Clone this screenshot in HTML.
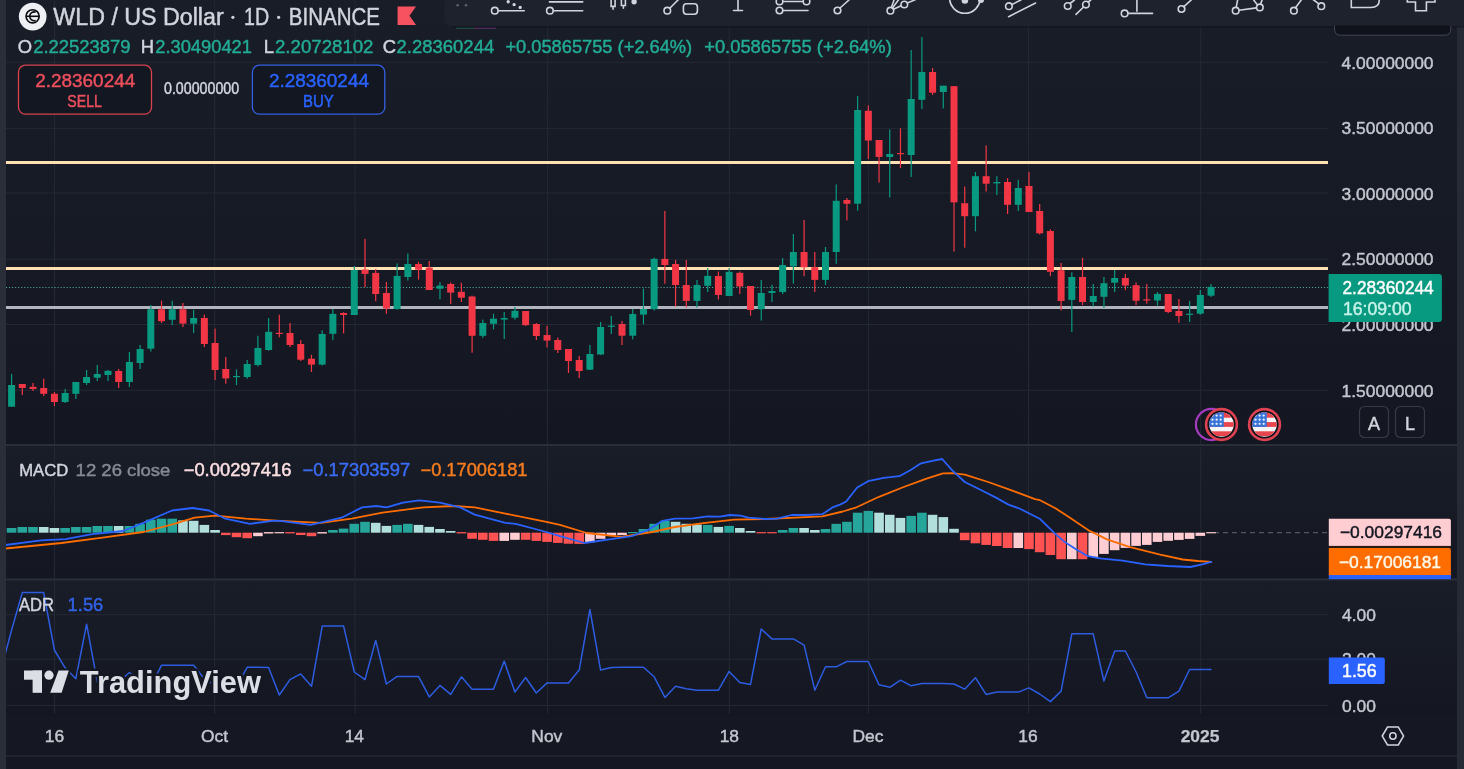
<!DOCTYPE html>
<html><head><meta charset="utf-8"><style>
html,body{margin:0;padding:0;background:#151822;overflow:hidden;}
svg{display:block;will-change:transform;}
text{font-family:"Liberation Sans", sans-serif;}
</style></head><body>
<svg width="1464" height="769" viewBox="0 0 1464 769">
<rect x="0" y="0" width="1464" height="769" fill="#151822"/>
<defs><linearGradient id="pg" x1="0" y1="0" x2="0" y2="1"><stop offset="0" stop-color="#191d28"/><stop offset="1" stop-color="#141721"/></linearGradient></defs>
<rect x="6" y="0" width="1451" height="444" fill="url(#pg)"/>
<rect x="6" y="446" width="1451" height="132.5" fill="url(#pg)"/>
<rect x="6" y="580.5" width="1451" height="135" fill="url(#pg)"/>
<rect x="54.0" y="0" width="1" height="444" fill="#242834"/>
<rect x="54.0" y="447" width="1" height="131" fill="#242834"/>
<rect x="54.0" y="581" width="1" height="133" fill="#242834"/>
<rect x="214.2" y="0" width="1" height="444" fill="#242834"/>
<rect x="214.2" y="447" width="1" height="131" fill="#242834"/>
<rect x="214.2" y="581" width="1" height="133" fill="#242834"/>
<rect x="354.5" y="0" width="1" height="444" fill="#242834"/>
<rect x="354.5" y="447" width="1" height="131" fill="#242834"/>
<rect x="354.5" y="581" width="1" height="133" fill="#242834"/>
<rect x="547.1" y="0" width="1" height="444" fill="#242834"/>
<rect x="547.1" y="447" width="1" height="131" fill="#242834"/>
<rect x="547.1" y="581" width="1" height="133" fill="#242834"/>
<rect x="728.8" y="0" width="1" height="444" fill="#242834"/>
<rect x="728.8" y="447" width="1" height="131" fill="#242834"/>
<rect x="728.8" y="581" width="1" height="133" fill="#242834"/>
<rect x="867.9" y="0" width="1" height="444" fill="#242834"/>
<rect x="867.9" y="447" width="1" height="131" fill="#242834"/>
<rect x="867.9" y="581" width="1" height="133" fill="#242834"/>
<rect x="1028.0" y="0" width="1" height="444" fill="#242834"/>
<rect x="1028.0" y="447" width="1" height="131" fill="#242834"/>
<rect x="1028.0" y="581" width="1" height="133" fill="#242834"/>
<rect x="1200.2" y="0" width="1" height="444" fill="#242834"/>
<rect x="1200.2" y="447" width="1" height="131" fill="#242834"/>
<rect x="1200.2" y="581" width="1" height="133" fill="#242834"/>
<rect x="6" y="61.9" width="1322" height="1" fill="#242834"/>
<rect x="6" y="127.9" width="1322" height="1" fill="#242834"/>
<rect x="6" y="192.4" width="1322" height="1" fill="#242834"/>
<rect x="6" y="258.8" width="1322" height="1" fill="#242834"/>
<rect x="6" y="324.0" width="1322" height="1" fill="#242834"/>
<rect x="6" y="389.8" width="1322" height="1" fill="#242834"/>
<rect x="6" y="614.1" width="1322" height="1" fill="#242834"/>
<rect x="6" y="658.7" width="1322" height="1" fill="#242834"/>
<rect x="6" y="704.9" width="1322" height="1" fill="#242834"/>
<rect x="6" y="161" width="1322" height="3" fill="#ffe0b2"/>
<rect x="6" y="267" width="1322" height="3" fill="#ffe0b2"/>
<rect x="6" y="306" width="1322" height="3" fill="#b2b5be"/>
<line x1="6" y1="287.5" x2="1328" y2="287.5" stroke="#4fa898" stroke-width="1.2" stroke-dasharray="1.1 1.93"/>
<rect x="10.99" y="374.0" width="1.2" height="32.7" fill="#089981"/>
<rect x="8.09" y="385.0" width="7.0" height="21.7" fill="#089981"/>
<rect x="21.70" y="384.0" width="1.2" height="11.0" fill="#f23645"/>
<rect x="18.80" y="384.0" width="7.0" height="4.0" fill="#f23645"/>
<rect x="32.41" y="383.0" width="1.2" height="8.0" fill="#f23645"/>
<rect x="29.51" y="386.8" width="7.0" height="2.2" fill="#f23645"/>
<rect x="43.12" y="378.6" width="1.2" height="17.4" fill="#f23645"/>
<rect x="40.22" y="388.0" width="7.0" height="5.8" fill="#f23645"/>
<rect x="53.83" y="392.0" width="1.2" height="14.0" fill="#f23645"/>
<rect x="50.93" y="393.8" width="7.0" height="8.2" fill="#f23645"/>
<rect x="64.54" y="389.0" width="1.2" height="14.0" fill="#089981"/>
<rect x="61.64" y="393.0" width="7.0" height="9.0" fill="#089981"/>
<rect x="75.25" y="382.0" width="1.2" height="17.0" fill="#089981"/>
<rect x="72.35" y="382.0" width="7.0" height="11.8" fill="#089981"/>
<rect x="85.96" y="370.0" width="1.2" height="15.0" fill="#089981"/>
<rect x="83.06" y="377.0" width="7.0" height="6.0" fill="#089981"/>
<rect x="96.67" y="365.0" width="1.2" height="16.0" fill="#089981"/>
<rect x="93.77" y="374.0" width="7.0" height="3.7" fill="#089981"/>
<rect x="107.38" y="370.0" width="1.2" height="11.0" fill="#089981"/>
<rect x="104.48" y="370.8" width="7.0" height="4.2" fill="#089981"/>
<rect x="118.09" y="369.0" width="1.2" height="19.0" fill="#f23645"/>
<rect x="115.19" y="371.0" width="7.0" height="11.0" fill="#f23645"/>
<rect x="128.79" y="352.0" width="1.2" height="35.0" fill="#089981"/>
<rect x="125.89" y="362.0" width="7.0" height="20.0" fill="#089981"/>
<rect x="139.50" y="345.0" width="1.2" height="24.0" fill="#089981"/>
<rect x="136.60" y="349.0" width="7.0" height="14.0" fill="#089981"/>
<rect x="150.21" y="305.0" width="1.2" height="46.5" fill="#089981"/>
<rect x="147.31" y="309.3" width="7.0" height="39.4" fill="#089981"/>
<rect x="160.92" y="300.7" width="1.2" height="22.3" fill="#f23645"/>
<rect x="158.02" y="309.3" width="7.0" height="11.9" fill="#f23645"/>
<rect x="171.63" y="300.7" width="1.2" height="24.3" fill="#089981"/>
<rect x="168.73" y="309.3" width="7.0" height="10.5" fill="#089981"/>
<rect x="182.34" y="303.0" width="1.2" height="24.0" fill="#f23645"/>
<rect x="179.44" y="309.3" width="7.0" height="14.3" fill="#f23645"/>
<rect x="193.05" y="309.8" width="1.2" height="23.2" fill="#089981"/>
<rect x="190.15" y="318.0" width="7.0" height="5.6" fill="#089981"/>
<rect x="203.76" y="314.6" width="1.2" height="32.4" fill="#f23645"/>
<rect x="200.86" y="318.0" width="7.0" height="26.0" fill="#f23645"/>
<rect x="214.47" y="328.6" width="1.2" height="51.4" fill="#f23645"/>
<rect x="211.57" y="343.0" width="7.0" height="27.0" fill="#f23645"/>
<rect x="225.18" y="357.0" width="1.2" height="26.7" fill="#f23645"/>
<rect x="222.28" y="369.0" width="7.0" height="9.4" fill="#f23645"/>
<rect x="235.89" y="369.4" width="1.2" height="15.6" fill="#089981"/>
<rect x="232.99" y="376.0" width="7.0" height="1.2" fill="#089981"/>
<rect x="246.60" y="360.0" width="1.2" height="18.7" fill="#089981"/>
<rect x="243.70" y="364.0" width="7.0" height="13.0" fill="#089981"/>
<rect x="257.31" y="335.8" width="1.2" height="30.7" fill="#089981"/>
<rect x="254.41" y="348.0" width="7.0" height="17.0" fill="#089981"/>
<rect x="268.02" y="318.0" width="1.2" height="32.8" fill="#089981"/>
<rect x="265.12" y="331.8" width="7.0" height="18.2" fill="#089981"/>
<rect x="278.72" y="314.8" width="1.2" height="22.5" fill="#f23645"/>
<rect x="275.82" y="332.8" width="7.0" height="1.2" fill="#f23645"/>
<rect x="289.43" y="323.0" width="1.2" height="24.0" fill="#f23645"/>
<rect x="286.53" y="333.0" width="7.0" height="12.0" fill="#f23645"/>
<rect x="300.14" y="340.0" width="1.2" height="21.0" fill="#f23645"/>
<rect x="297.24" y="344.0" width="7.0" height="15.7" fill="#f23645"/>
<rect x="310.85" y="354.8" width="1.2" height="17.2" fill="#f23645"/>
<rect x="307.95" y="358.7" width="7.0" height="5.9" fill="#f23645"/>
<rect x="321.56" y="330.4" width="1.2" height="35.1" fill="#089981"/>
<rect x="318.66" y="334.0" width="7.0" height="30.6" fill="#089981"/>
<rect x="332.27" y="309.0" width="1.2" height="31.2" fill="#089981"/>
<rect x="329.37" y="313.9" width="7.0" height="19.9" fill="#089981"/>
<rect x="342.98" y="312.3" width="1.2" height="21.1" fill="#f23645"/>
<rect x="340.08" y="313.0" width="7.0" height="2.0" fill="#f23645"/>
<rect x="353.69" y="266.0" width="1.2" height="49.0" fill="#089981"/>
<rect x="350.79" y="270.0" width="7.0" height="45.0" fill="#089981"/>
<rect x="364.40" y="238.8" width="1.2" height="48.2" fill="#f23645"/>
<rect x="361.50" y="269.6" width="7.0" height="4.3" fill="#f23645"/>
<rect x="375.11" y="269.0" width="1.2" height="32.2" fill="#f23645"/>
<rect x="372.21" y="272.9" width="7.0" height="21.1" fill="#f23645"/>
<rect x="385.82" y="282.0" width="1.2" height="31.8" fill="#f23645"/>
<rect x="382.92" y="293.0" width="7.0" height="15.6" fill="#f23645"/>
<rect x="396.53" y="263.4" width="1.2" height="46.4" fill="#089981"/>
<rect x="393.63" y="275.9" width="7.0" height="33.1" fill="#089981"/>
<rect x="407.24" y="253.6" width="1.2" height="27.0" fill="#089981"/>
<rect x="404.34" y="264.0" width="7.0" height="13.0" fill="#089981"/>
<rect x="417.95" y="261.9" width="1.2" height="17.7" fill="#f23645"/>
<rect x="415.05" y="264.0" width="7.0" height="5.7" fill="#f23645"/>
<rect x="428.65" y="261.0" width="1.2" height="29.0" fill="#f23645"/>
<rect x="425.75" y="267.6" width="7.0" height="22.4" fill="#f23645"/>
<rect x="439.36" y="282.0" width="1.2" height="17.3" fill="#089981"/>
<rect x="436.46" y="285.6" width="7.0" height="3.1" fill="#089981"/>
<rect x="450.07" y="282.5" width="1.2" height="21.5" fill="#f23645"/>
<rect x="447.17" y="284.0" width="7.0" height="8.6" fill="#f23645"/>
<rect x="460.78" y="282.8" width="1.2" height="19.2" fill="#f23645"/>
<rect x="457.88" y="291.8" width="7.0" height="5.9" fill="#f23645"/>
<rect x="471.49" y="295.7" width="1.2" height="57.0" fill="#f23645"/>
<rect x="468.59" y="296.5" width="7.0" height="39.3" fill="#f23645"/>
<rect x="482.20" y="319.6" width="1.2" height="18.3" fill="#089981"/>
<rect x="479.30" y="323.0" width="7.0" height="12.8" fill="#089981"/>
<rect x="492.91" y="313.7" width="1.2" height="15.6" fill="#089981"/>
<rect x="490.01" y="318.7" width="7.0" height="5.1" fill="#089981"/>
<rect x="503.62" y="312.0" width="1.2" height="27.0" fill="#089981"/>
<rect x="500.72" y="318.0" width="7.0" height="1.6" fill="#089981"/>
<rect x="514.33" y="307.0" width="1.2" height="12.6" fill="#089981"/>
<rect x="511.43" y="310.8" width="7.0" height="6.9" fill="#089981"/>
<rect x="525.04" y="311.0" width="1.2" height="14.8" fill="#f23645"/>
<rect x="522.14" y="311.0" width="7.0" height="14.2" fill="#f23645"/>
<rect x="535.75" y="323.0" width="1.2" height="17.0" fill="#f23645"/>
<rect x="532.85" y="324.0" width="7.0" height="12.0" fill="#f23645"/>
<rect x="546.46" y="325.8" width="1.2" height="21.6" fill="#f23645"/>
<rect x="543.56" y="335.0" width="7.0" height="5.6" fill="#f23645"/>
<rect x="557.17" y="337.6" width="1.2" height="15.4" fill="#f23645"/>
<rect x="554.27" y="340.0" width="7.0" height="10.0" fill="#f23645"/>
<rect x="567.88" y="349.0" width="1.2" height="24.0" fill="#f23645"/>
<rect x="564.98" y="349.0" width="7.0" height="12.0" fill="#f23645"/>
<rect x="578.59" y="356.0" width="1.2" height="22.0" fill="#f23645"/>
<rect x="575.69" y="360.0" width="7.0" height="11.0" fill="#f23645"/>
<rect x="589.29" y="345.0" width="1.2" height="25.0" fill="#089981"/>
<rect x="586.39" y="354.0" width="7.0" height="15.7" fill="#089981"/>
<rect x="600.00" y="322.0" width="1.2" height="33.0" fill="#089981"/>
<rect x="597.10" y="327.0" width="7.0" height="27.5" fill="#089981"/>
<rect x="610.71" y="316.0" width="1.2" height="17.9" fill="#089981"/>
<rect x="607.81" y="325.6" width="7.0" height="1.2" fill="#089981"/>
<rect x="621.42" y="320.9" width="1.2" height="24.1" fill="#f23645"/>
<rect x="618.52" y="324.0" width="7.0" height="11.7" fill="#f23645"/>
<rect x="632.13" y="309.0" width="1.2" height="30.4" fill="#089981"/>
<rect x="629.23" y="314.0" width="7.0" height="21.7" fill="#089981"/>
<rect x="642.84" y="288.6" width="1.2" height="35.7" fill="#089981"/>
<rect x="639.94" y="309.0" width="7.0" height="5.6" fill="#089981"/>
<rect x="653.55" y="257.7" width="1.2" height="52.8" fill="#089981"/>
<rect x="650.65" y="258.8" width="7.0" height="50.4" fill="#089981"/>
<rect x="664.26" y="211.0" width="1.2" height="72.7" fill="#f23645"/>
<rect x="661.36" y="258.9" width="7.0" height="6.1" fill="#f23645"/>
<rect x="674.97" y="259.8" width="1.2" height="46.8" fill="#f23645"/>
<rect x="672.07" y="264.0" width="7.0" height="21.0" fill="#f23645"/>
<rect x="685.68" y="259.8" width="1.2" height="47.8" fill="#f23645"/>
<rect x="682.78" y="285.0" width="7.0" height="15.9" fill="#f23645"/>
<rect x="696.39" y="280.0" width="1.2" height="27.6" fill="#089981"/>
<rect x="693.49" y="285.0" width="7.0" height="15.9" fill="#089981"/>
<rect x="707.10" y="268.0" width="1.2" height="24.0" fill="#089981"/>
<rect x="704.20" y="275.9" width="7.0" height="9.9" fill="#089981"/>
<rect x="717.81" y="271.5" width="1.2" height="28.0" fill="#f23645"/>
<rect x="714.91" y="276.0" width="7.0" height="19.0" fill="#f23645"/>
<rect x="728.52" y="268.0" width="1.2" height="28.0" fill="#089981"/>
<rect x="725.62" y="271.8" width="7.0" height="24.2" fill="#089981"/>
<rect x="739.22" y="271.5" width="1.2" height="22.5" fill="#f23645"/>
<rect x="736.32" y="272.8" width="7.0" height="13.7" fill="#f23645"/>
<rect x="749.93" y="286.0" width="1.2" height="29.7" fill="#f23645"/>
<rect x="747.03" y="286.0" width="7.0" height="24.0" fill="#f23645"/>
<rect x="760.64" y="280.0" width="1.2" height="40.6" fill="#089981"/>
<rect x="757.74" y="293.0" width="7.0" height="16.2" fill="#089981"/>
<rect x="771.35" y="284.8" width="1.2" height="17.2" fill="#089981"/>
<rect x="768.45" y="291.0" width="7.0" height="2.0" fill="#089981"/>
<rect x="782.06" y="258.0" width="1.2" height="36.0" fill="#089981"/>
<rect x="779.16" y="265.0" width="7.0" height="27.0" fill="#089981"/>
<rect x="792.77" y="234.0" width="1.2" height="49.6" fill="#089981"/>
<rect x="789.87" y="252.0" width="7.0" height="14.4" fill="#089981"/>
<rect x="803.48" y="219.9" width="1.2" height="56.3" fill="#f23645"/>
<rect x="800.58" y="252.0" width="7.0" height="15.2" fill="#f23645"/>
<rect x="814.19" y="252.0" width="1.2" height="40.0" fill="#f23645"/>
<rect x="811.29" y="267.2" width="7.0" height="12.7" fill="#f23645"/>
<rect x="824.90" y="247.0" width="1.2" height="38.0" fill="#089981"/>
<rect x="822.00" y="252.0" width="7.0" height="27.9" fill="#089981"/>
<rect x="835.61" y="184.4" width="1.2" height="79.4" fill="#089981"/>
<rect x="832.71" y="200.8" width="7.0" height="51.2" fill="#089981"/>
<rect x="846.32" y="198.0" width="1.2" height="22.4" fill="#f23645"/>
<rect x="843.42" y="200.0" width="7.0" height="3.8" fill="#f23645"/>
<rect x="857.03" y="96.0" width="1.2" height="114.6" fill="#089981"/>
<rect x="854.13" y="110.0" width="7.0" height="93.7" fill="#089981"/>
<rect x="867.74" y="105.4" width="1.2" height="53.6" fill="#f23645"/>
<rect x="864.84" y="110.8" width="7.0" height="29.7" fill="#f23645"/>
<rect x="878.45" y="140.0" width="1.2" height="42.6" fill="#f23645"/>
<rect x="875.55" y="140.0" width="7.0" height="16.9" fill="#f23645"/>
<rect x="889.15" y="129.5" width="1.2" height="67.9" fill="#089981"/>
<rect x="886.25" y="154.0" width="7.0" height="3.0" fill="#089981"/>
<rect x="899.86" y="128.3" width="1.2" height="39.7" fill="#f23645"/>
<rect x="896.96" y="153.0" width="7.0" height="1.2" fill="#f23645"/>
<rect x="910.57" y="50.0" width="1.2" height="127.0" fill="#089981"/>
<rect x="907.67" y="99.0" width="7.0" height="56.0" fill="#089981"/>
<rect x="921.28" y="37.0" width="1.2" height="72.0" fill="#089981"/>
<rect x="918.38" y="72.0" width="7.0" height="27.8" fill="#089981"/>
<rect x="931.99" y="68.0" width="1.2" height="27.0" fill="#f23645"/>
<rect x="929.09" y="72.0" width="7.0" height="20.7" fill="#f23645"/>
<rect x="942.70" y="85.7" width="1.2" height="22.7" fill="#089981"/>
<rect x="939.80" y="85.7" width="7.0" height="6.3" fill="#089981"/>
<rect x="953.41" y="86.2" width="1.2" height="165.4" fill="#f23645"/>
<rect x="950.51" y="86.2" width="7.0" height="116.2" fill="#f23645"/>
<rect x="964.12" y="186.5" width="1.2" height="61.2" fill="#f23645"/>
<rect x="961.22" y="203.2" width="7.0" height="13.0" fill="#f23645"/>
<rect x="974.83" y="172.0" width="1.2" height="59.3" fill="#089981"/>
<rect x="971.93" y="176.2" width="7.0" height="40.0" fill="#089981"/>
<rect x="985.54" y="145.5" width="1.2" height="46.0" fill="#f23645"/>
<rect x="982.64" y="176.2" width="7.0" height="7.5" fill="#f23645"/>
<rect x="996.25" y="176.2" width="1.2" height="18.8" fill="#089981"/>
<rect x="993.35" y="182.0" width="7.0" height="1.4" fill="#089981"/>
<rect x="1006.96" y="178.2" width="1.2" height="35.8" fill="#f23645"/>
<rect x="1004.06" y="182.0" width="7.0" height="22.8" fill="#f23645"/>
<rect x="1017.67" y="179.8" width="1.2" height="31.2" fill="#089981"/>
<rect x="1014.77" y="188.0" width="7.0" height="16.8" fill="#089981"/>
<rect x="1028.38" y="172.0" width="1.2" height="40.0" fill="#f23645"/>
<rect x="1025.48" y="186.0" width="7.0" height="26.0" fill="#f23645"/>
<rect x="1039.09" y="204.0" width="1.2" height="30.4" fill="#f23645"/>
<rect x="1036.19" y="211.0" width="7.0" height="22.3" fill="#f23645"/>
<rect x="1049.79" y="229.4" width="1.2" height="46.8" fill="#f23645"/>
<rect x="1046.89" y="231.0" width="7.0" height="40.8" fill="#f23645"/>
<rect x="1060.50" y="263.0" width="1.2" height="47.5" fill="#f23645"/>
<rect x="1057.60" y="270.2" width="7.0" height="30.8" fill="#f23645"/>
<rect x="1071.21" y="272.3" width="1.2" height="59.7" fill="#089981"/>
<rect x="1068.31" y="277.0" width="7.0" height="22.9" fill="#089981"/>
<rect x="1081.92" y="257.8" width="1.2" height="47.2" fill="#f23645"/>
<rect x="1079.02" y="277.0" width="7.0" height="25.0" fill="#f23645"/>
<rect x="1092.63" y="284.0" width="1.2" height="22.6" fill="#089981"/>
<rect x="1089.73" y="296.0" width="7.0" height="6.0" fill="#089981"/>
<rect x="1103.34" y="277.0" width="1.2" height="31.0" fill="#089981"/>
<rect x="1100.44" y="283.2" width="7.0" height="13.6" fill="#089981"/>
<rect x="1114.05" y="270.0" width="1.2" height="22.0" fill="#089981"/>
<rect x="1111.15" y="278.0" width="7.0" height="4.7" fill="#089981"/>
<rect x="1124.76" y="273.8" width="1.2" height="16.4" fill="#f23645"/>
<rect x="1121.86" y="278.0" width="7.0" height="7.5" fill="#f23645"/>
<rect x="1135.47" y="282.4" width="1.2" height="22.6" fill="#f23645"/>
<rect x="1132.57" y="285.2" width="7.0" height="15.6" fill="#f23645"/>
<rect x="1146.18" y="284.0" width="1.2" height="19.7" fill="#f23645"/>
<rect x="1143.28" y="299.3" width="7.0" height="1.2" fill="#f23645"/>
<rect x="1156.89" y="292.0" width="1.2" height="13.5" fill="#089981"/>
<rect x="1153.99" y="293.9" width="7.0" height="6.6" fill="#089981"/>
<rect x="1167.60" y="294.0" width="1.2" height="19.2" fill="#f23645"/>
<rect x="1164.70" y="294.0" width="7.0" height="18.0" fill="#f23645"/>
<rect x="1178.31" y="299.0" width="1.2" height="23.8" fill="#f23645"/>
<rect x="1175.41" y="311.0" width="7.0" height="5.0" fill="#f23645"/>
<rect x="1189.02" y="301.0" width="1.2" height="21.0" fill="#089981"/>
<rect x="1186.12" y="313.7" width="7.0" height="1.2" fill="#089981"/>
<rect x="1199.72" y="290.0" width="1.2" height="24.6" fill="#089981"/>
<rect x="1196.82" y="295.0" width="7.0" height="18.7" fill="#089981"/>
<rect x="1210.43" y="284.0" width="1.2" height="13.0" fill="#089981"/>
<rect x="1207.53" y="286.9" width="7.0" height="8.8" fill="#089981"/>
<rect x="6" y="444" width="1451" height="2" fill="#2a2e39"/>
<rect x="6" y="578.5" width="1451" height="2" fill="#2a2e39"/>
<line x1="1214" y1="532.7" x2="1328" y2="532.7" stroke="#787b86" stroke-width="1" stroke-dasharray="5 4" opacity="0.8"/>
<rect x="6.79" y="528.0" width="9.6" height="4.7" fill="#26a69a"/>
<rect x="17.50" y="527.0" width="9.6" height="5.7" fill="#26a69a"/>
<rect x="28.21" y="527.0" width="9.6" height="5.7" fill="#26a69a"/>
<rect x="38.92" y="527.0" width="9.6" height="5.7" fill="#b2dfdb"/>
<rect x="49.63" y="528.0" width="9.6" height="4.7" fill="#b2dfdb"/>
<rect x="60.34" y="528.0" width="9.6" height="4.7" fill="#26a69a"/>
<rect x="71.05" y="527.0" width="9.6" height="5.7" fill="#26a69a"/>
<rect x="81.76" y="527.0" width="9.6" height="5.7" fill="#26a69a"/>
<rect x="92.47" y="526.0" width="9.6" height="6.7" fill="#26a69a"/>
<rect x="103.18" y="526.0" width="9.6" height="6.7" fill="#26a69a"/>
<rect x="113.89" y="526.0" width="9.6" height="6.7" fill="#b2dfdb"/>
<rect x="124.59" y="526.0" width="9.6" height="6.7" fill="#26a69a"/>
<rect x="135.30" y="523.8" width="9.6" height="8.9" fill="#26a69a"/>
<rect x="146.01" y="519.7" width="9.6" height="13.0" fill="#26a69a"/>
<rect x="156.72" y="518.7" width="9.6" height="14.0" fill="#26a69a"/>
<rect x="167.43" y="518.7" width="9.6" height="14.0" fill="#26a69a"/>
<rect x="178.14" y="520.4" width="9.6" height="12.3" fill="#b2dfdb"/>
<rect x="188.85" y="520.8" width="9.6" height="11.9" fill="#b2dfdb"/>
<rect x="199.56" y="524.9" width="9.6" height="7.8" fill="#b2dfdb"/>
<rect x="210.27" y="530.0" width="9.6" height="2.7" fill="#b2dfdb"/>
<rect x="220.98" y="532.7" width="9.6" height="2.4" fill="#ff5252"/>
<rect x="231.69" y="532.7" width="9.6" height="4.5" fill="#ff5252"/>
<rect x="242.40" y="532.7" width="9.6" height="5.5" fill="#ff5252"/>
<rect x="253.11" y="532.7" width="9.6" height="3.5" fill="#ffcdd2"/>
<rect x="263.82" y="532.1" width="9.6" height="1.4" fill="#ffcdd2"/>
<rect x="274.52" y="532.1" width="9.6" height="1.2" fill="#ffcdd2"/>
<rect x="285.23" y="532.1" width="9.6" height="1.3" fill="#ff5252"/>
<rect x="295.94" y="532.7" width="9.6" height="2.3" fill="#ff5252"/>
<rect x="306.65" y="532.7" width="9.6" height="3.5" fill="#ff5252"/>
<rect x="317.36" y="532.1" width="9.6" height="1.4" fill="#ffcdd2"/>
<rect x="328.07" y="530.0" width="9.6" height="2.7" fill="#26a69a"/>
<rect x="338.78" y="528.6" width="9.6" height="4.1" fill="#26a69a"/>
<rect x="349.49" y="523.8" width="9.6" height="8.9" fill="#26a69a"/>
<rect x="360.20" y="521.8" width="9.6" height="10.9" fill="#26a69a"/>
<rect x="370.91" y="522.8" width="9.6" height="9.9" fill="#b2dfdb"/>
<rect x="381.62" y="525.9" width="9.6" height="6.8" fill="#b2dfdb"/>
<rect x="392.33" y="524.9" width="9.6" height="7.8" fill="#26a69a"/>
<rect x="403.04" y="523.8" width="9.6" height="8.9" fill="#26a69a"/>
<rect x="413.75" y="524.9" width="9.6" height="7.8" fill="#b2dfdb"/>
<rect x="424.45" y="526.9" width="9.6" height="5.8" fill="#b2dfdb"/>
<rect x="435.16" y="529.0" width="9.6" height="3.7" fill="#b2dfdb"/>
<rect x="445.87" y="531.0" width="9.6" height="1.7" fill="#b2dfdb"/>
<rect x="456.58" y="532.1" width="9.6" height="1.3" fill="#ff5252"/>
<rect x="467.29" y="532.7" width="9.6" height="6.1" fill="#ff5252"/>
<rect x="478.00" y="532.7" width="9.6" height="7.1" fill="#ff5252"/>
<rect x="488.71" y="532.7" width="9.6" height="8.2" fill="#ff5252"/>
<rect x="499.42" y="532.7" width="9.6" height="8.2" fill="#ffcdd2"/>
<rect x="510.13" y="532.7" width="9.6" height="7.1" fill="#ffcdd2"/>
<rect x="520.84" y="532.7" width="9.6" height="7.1" fill="#ff5252"/>
<rect x="531.55" y="532.7" width="9.6" height="8.2" fill="#ff5252"/>
<rect x="542.26" y="532.7" width="9.6" height="9.2" fill="#ff5252"/>
<rect x="552.97" y="532.7" width="9.6" height="10.2" fill="#ff5252"/>
<rect x="563.68" y="532.7" width="9.6" height="11.0" fill="#ff5252"/>
<rect x="574.39" y="532.7" width="9.6" height="11.2" fill="#ff5252"/>
<rect x="585.09" y="532.7" width="9.6" height="9.6" fill="#ffcdd2"/>
<rect x="595.80" y="532.7" width="9.6" height="6.1" fill="#ffcdd2"/>
<rect x="606.51" y="532.7" width="9.6" height="2.8" fill="#ffcdd2"/>
<rect x="617.22" y="532.7" width="9.6" height="2.4" fill="#ffcdd2"/>
<rect x="627.93" y="532.0" width="9.6" height="1.2" fill="#26a69a"/>
<rect x="638.64" y="529.0" width="9.6" height="3.7" fill="#26a69a"/>
<rect x="649.35" y="523.8" width="9.6" height="8.9" fill="#26a69a"/>
<rect x="660.06" y="520.8" width="9.6" height="11.9" fill="#26a69a"/>
<rect x="670.77" y="521.8" width="9.6" height="10.9" fill="#b2dfdb"/>
<rect x="681.48" y="523.8" width="9.6" height="8.9" fill="#b2dfdb"/>
<rect x="692.19" y="524.5" width="9.6" height="8.2" fill="#b2dfdb"/>
<rect x="702.90" y="524.9" width="9.6" height="7.8" fill="#26a69a"/>
<rect x="713.61" y="526.9" width="9.6" height="5.8" fill="#b2dfdb"/>
<rect x="724.32" y="525.9" width="9.6" height="6.8" fill="#26a69a"/>
<rect x="735.02" y="528.0" width="9.6" height="4.7" fill="#b2dfdb"/>
<rect x="745.73" y="531.0" width="9.6" height="1.7" fill="#b2dfdb"/>
<rect x="756.44" y="532.1" width="9.6" height="1.2" fill="#ff5252"/>
<rect x="767.15" y="532.1" width="9.6" height="1.2" fill="#ff5252"/>
<rect x="777.86" y="530.0" width="9.6" height="2.7" fill="#26a69a"/>
<rect x="788.57" y="528.0" width="9.6" height="4.7" fill="#26a69a"/>
<rect x="799.28" y="528.0" width="9.6" height="4.7" fill="#b2dfdb"/>
<rect x="809.99" y="530.0" width="9.6" height="2.7" fill="#b2dfdb"/>
<rect x="820.70" y="529.0" width="9.6" height="3.7" fill="#26a69a"/>
<rect x="831.41" y="523.8" width="9.6" height="8.9" fill="#26a69a"/>
<rect x="842.12" y="521.8" width="9.6" height="10.9" fill="#26a69a"/>
<rect x="852.83" y="512.7" width="9.6" height="20.0" fill="#26a69a"/>
<rect x="863.54" y="510.9" width="9.6" height="21.8" fill="#26a69a"/>
<rect x="874.25" y="512.7" width="9.6" height="20.0" fill="#b2dfdb"/>
<rect x="884.95" y="514.8" width="9.6" height="17.9" fill="#b2dfdb"/>
<rect x="895.66" y="517.9" width="9.6" height="14.8" fill="#b2dfdb"/>
<rect x="906.37" y="515.9" width="9.6" height="16.8" fill="#26a69a"/>
<rect x="917.08" y="512.7" width="9.6" height="20.0" fill="#26a69a"/>
<rect x="927.79" y="514.8" width="9.6" height="17.9" fill="#b2dfdb"/>
<rect x="938.50" y="517.1" width="9.6" height="15.6" fill="#b2dfdb"/>
<rect x="949.21" y="528.8" width="9.6" height="3.9" fill="#b2dfdb"/>
<rect x="959.92" y="532.7" width="9.6" height="7.5" fill="#ff5252"/>
<rect x="970.63" y="532.7" width="9.6" height="10.6" fill="#ff5252"/>
<rect x="981.34" y="532.7" width="9.6" height="12.2" fill="#ff5252"/>
<rect x="992.05" y="532.7" width="9.6" height="13.3" fill="#ff5252"/>
<rect x="1002.76" y="532.7" width="9.6" height="15.3" fill="#ff5252"/>
<rect x="1013.47" y="532.7" width="9.6" height="15.3" fill="#ffcdd2"/>
<rect x="1024.18" y="532.7" width="9.6" height="16.4" fill="#ff5252"/>
<rect x="1034.89" y="532.7" width="9.6" height="19.5" fill="#ff5252"/>
<rect x="1045.59" y="532.7" width="9.6" height="22.3" fill="#ff5252"/>
<rect x="1056.30" y="532.7" width="9.6" height="26.5" fill="#ff5252"/>
<rect x="1067.01" y="532.7" width="9.6" height="26.5" fill="#ffcdd2"/>
<rect x="1077.72" y="532.7" width="9.6" height="26.5" fill="#ff5252"/>
<rect x="1088.43" y="532.7" width="9.6" height="24.2" fill="#ffcdd2"/>
<rect x="1099.14" y="532.7" width="9.6" height="21.2" fill="#ffcdd2"/>
<rect x="1109.85" y="532.7" width="9.6" height="17.5" fill="#ffcdd2"/>
<rect x="1120.56" y="532.7" width="9.6" height="15.2" fill="#ffcdd2"/>
<rect x="1131.27" y="532.7" width="9.6" height="13.2" fill="#ffcdd2"/>
<rect x="1141.98" y="532.7" width="9.6" height="12.2" fill="#ffcdd2"/>
<rect x="1152.69" y="532.7" width="9.6" height="9.2" fill="#ffcdd2"/>
<rect x="1163.40" y="532.7" width="9.6" height="8.1" fill="#ffcdd2"/>
<rect x="1174.11" y="532.7" width="9.6" height="7.2" fill="#ffcdd2"/>
<rect x="1184.82" y="532.7" width="9.6" height="6.2" fill="#ffcdd2"/>
<rect x="1195.52" y="532.7" width="9.6" height="3.2" fill="#ffcdd2"/>
<rect x="1206.23" y="532.1" width="9.6" height="1.2" fill="#ffcdd2"/>
<polyline points="5.7,548.5 61.5,543.0 102.5,537.6 143.4,532.0 174.2,523.8 194.7,517.7 215.2,515.6 245.9,518.7 280.0,520.8 321.0,522.8 351.7,518.7 382.5,512.6 423.4,507.4 454.2,506.0 474.7,507.4 505.4,513.6 546.4,521.8 560.0,524.9 586.6,533.0 621.5,536.8 652.2,532.0 674.8,527.0 703.4,523.2 734.2,519.7 765.0,519.0 795.7,517.7 822.3,516.3 842.8,511.5 855.6,507.7 879.0,496.8 902.4,487.5 925.8,478.9 943.0,473.4 952.3,473.1 964.8,474.7 988.2,482.0 1011.6,490.3 1035.0,499.2 1040.0,500.2 1055.0,508.0 1070.0,517.8 1089.6,530.9 1107.6,539.6 1130.2,547.1 1160.2,554.7 1182.7,559.5 1197.8,561.0 1211.3,561.9" fill="none" stroke="#ff6d00" stroke-width="1.8" stroke-linejoin="round" stroke-linecap="round"/>
<polyline points="5.7,545.0 41.0,540.3 65.6,539.2 92.2,534.1 123.0,531.0 143.4,522.8 172.0,510.5 192.6,508.0 209.0,510.5 225.4,518.7 250.0,523.8 272.5,520.8 280.0,520.8 310.7,524.9 341.5,517.7 362.0,507.4 376.3,506.0 386.6,507.4 403.0,502.7 419.3,500.3 439.8,502.7 460.3,507.4 474.7,514.6 505.4,522.8 515.7,523.8 546.4,532.0 560.0,536.2 584.6,543.0 611.2,539.2 631.7,536.2 648.0,530.0 662.5,520.8 674.8,518.7 693.2,518.3 707.5,516.3 719.8,516.7 730.0,515.0 740.3,515.6 748.5,517.7 765.0,519.0 777.2,518.7 791.6,515.0 806.0,515.0 822.3,514.2 832.5,507.4 840.0,504.6 846.2,501.5 857.2,487.5 868.1,481.2 883.7,477.8 899.3,476.2 910.2,470.3 921.1,463.3 933.6,460.6 942.2,459.0 952.3,470.3 964.8,482.0 980.4,489.8 996.0,497.6 1008.5,504.6 1019.4,508.5 1039.7,518.7 1055.0,533.6 1065.5,542.6 1077.6,550.2 1088.0,556.2 1100.0,558.4 1122.6,560.7 1145.2,564.4 1167.7,566.0 1190.3,567.0 1202.3,564.4 1211.3,561.9" fill="none" stroke="#2962ff" stroke-width="1.8" stroke-linejoin="round" stroke-linecap="round"/>
<clipPath id="adrclip"><rect x="6" y="581" width="1322" height="135"/></clipPath>
<g clip-path="url(#adrclip)"><polyline points="0.7,671.0 11.6,630.0 22.3,592.6 33.0,592.6 43.7,592.6 54.4,650.0 65.1,667.8 75.8,678.8 86.6,624.2 97.3,682.0 108.0,678.0 118.7,682.0 129.4,672.5 140.1,680.0 150.8,686.0 161.5,665.3 172.2,665.3 182.9,665.3 193.7,665.3 204.4,679.0 215.1,685.0 225.8,690.0 236.5,686.0 247.2,667.3 257.9,667.3 268.6,667.6 279.3,695.0 290.0,679.6 300.7,673.9 311.5,686.3 322.2,626.1 332.9,626.1 343.6,626.1 354.3,672.0 365.0,679.6 375.7,640.4 386.4,684.0 397.1,676.4 407.8,676.4 418.5,676.4 429.3,696.9 440.0,685.4 450.7,694.4 461.4,676.8 472.1,689.2 482.8,689.2 493.5,689.2 504.2,661.1 514.9,692.1 525.6,677.5 536.3,693.0 547.1,682.9 557.8,682.9 568.5,682.9 579.2,670.1 589.9,609.5 600.6,670.1 611.3,667.6 622.0,667.2 632.7,667.2 643.4,667.2 654.2,676.8 664.9,697.4 675.6,686.3 686.3,688.8 697.0,690.2 707.7,690.2 718.4,690.2 729.1,671.4 739.8,682.5 750.5,684.4 761.2,629.0 772.0,638.9 782.7,638.9 793.4,638.9 804.1,645.2 814.8,690.2 825.5,666.8 836.2,666.8 846.9,661.5 857.6,661.5 868.3,661.5 879.0,684.8 889.8,687.3 900.5,680.2 911.2,685.8 921.9,683.5 932.6,683.5 943.3,683.5 954.0,684.0 964.7,689.2 975.4,677.7 986.1,694.4 996.8,692.1 1007.6,692.1 1018.3,692.1 1029.0,687.9 1039.7,694.0 1050.4,701.6 1061.1,691.1 1071.8,633.8 1082.5,633.8 1093.2,633.8 1103.9,681.0 1114.7,651.0 1125.4,651.0 1136.1,672.0 1146.8,697.8 1157.5,697.8 1168.2,697.8 1178.9,691.1 1189.6,669.5 1200.3,669.5 1211.0,669.5" fill="none" stroke="#2d5ce0" stroke-width="1.5" stroke-linejoin="round" stroke-linecap="round"/></g>
<g fill="#151822" stroke="#151822" stroke-width="4"><rect x="24" y="670.5" width="18" height="9.2"/><rect x="32.6" y="670.5" width="9.4" height="22.3"/><circle cx="49" cy="675.2" r="4.6"/><polygon points="58.6,670.5 68.8,670.5 61.6,692.8 50.2,692.8"/></g>
<g fill="#dcdee6"><rect x="24" y="670.5" width="18" height="9.2"/><rect x="32.6" y="670.5" width="9.4" height="22.3"/><circle cx="49" cy="675.2" r="4.6"/><polygon points="58.6,670.5 68.8,670.5 61.6,692.8 50.2,692.8"/></g>
<text x="79.8" y="692.8" font-weight="bold" font-size="31.5" fill="#dcdee6" stroke="#151822" stroke-width="5" paint-order="stroke" stroke-linejoin="round" textLength="181.2" lengthAdjust="spacingAndGlyphs">TradingView</text>
<rect x="0" y="0" width="6" height="769" fill="#2a2e39"/>
<rect x="1457" y="0" width="7" height="769" fill="#262a34"/>
<rect x="6" y="755.5" width="1451" height="1" fill="#2a2e39"/>
<circle cx="32.7" cy="16.6" r="13.85" fill="#eff0f4"/>
<g fill="none" stroke="#0c0c10" stroke-width="1.6"><circle cx="32.6" cy="16.3" r="6.6"/><path d="M35.7,12.2 A4.4,4.4 0 1 0 35.7,20.4"/><line x1="26" y1="16.3" x2="39.2" y2="16.3"/></g>
<text stroke="#d1d4dc" stroke-width="0.45" x="53.3" y="24.7" font-size="23" fill="#d1d4dc" textLength="170.4" lengthAdjust="spacingAndGlyphs">WLD / US Dollar</text>
<text stroke="#d1d4dc" stroke-width="0.45" x="244" y="24.7" font-size="23" fill="#d1d4dc" textLength="25.1" lengthAdjust="spacingAndGlyphs">1D</text>
<text stroke="#d1d4dc" stroke-width="0.45" x="288.8" y="24.7" font-size="23" fill="#d1d4dc" textLength="91.1" lengthAdjust="spacingAndGlyphs">BINANCE</text>
<circle cx="232.9" cy="17.3" r="1.6" fill="#d1d4dc"/>
<circle cx="278.6" cy="17.3" r="1.6" fill="#d1d4dc"/>
<polygon points="397.6,6.6 416,6.6 409.5,15.8 416,25.1 397.6,25.1" fill="#f7525f"/>
<text stroke="#d1d4dc" stroke-width="0.45" x="17.8" y="52.8" font-size="18.4" fill="#d1d4dc">O</text>
<text stroke="#22ab94" stroke-width="0.45" x="33.2" y="52.8" font-size="18.4" fill="#22ab94" textLength="97.4" lengthAdjust="spacingAndGlyphs">2.22523879</text>
<text stroke="#d1d4dc" stroke-width="0.45" x="140.8" y="52.8" font-size="18.4" fill="#d1d4dc">H</text>
<text stroke="#22ab94" stroke-width="0.45" x="155.2" y="52.8" font-size="18.4" fill="#22ab94" textLength="96.8" lengthAdjust="spacingAndGlyphs">2.30490421</text>
<text stroke="#d1d4dc" stroke-width="0.45" x="263.8" y="52.8" font-size="18.4" fill="#d1d4dc">L</text>
<text stroke="#22ab94" stroke-width="0.45" x="275" y="52.8" font-size="18.4" fill="#22ab94" textLength="98.5" lengthAdjust="spacingAndGlyphs">2.20728102</text>
<text stroke="#d1d4dc" stroke-width="0.45" x="382.7" y="52.8" font-size="18.4" fill="#d1d4dc">C</text>
<text stroke="#22ab94" stroke-width="0.45" x="396.6" y="52.8" font-size="18.4" fill="#22ab94" textLength="97.6" lengthAdjust="spacingAndGlyphs">2.28360244</text>
<text stroke="#22ab94" stroke-width="0.45" x="505.4" y="52.8" font-size="18.4" fill="#22ab94" textLength="186.8" lengthAdjust="spacingAndGlyphs">+0.05865755 (+2.64%)</text>
<text stroke="#22ab94" stroke-width="0.45" x="704.2" y="52.8" font-size="18.4" fill="#22ab94" textLength="187.6" lengthAdjust="spacingAndGlyphs">+0.05865755 (+2.64%)</text>
<rect x="18.5" y="65.2" width="133" height="49" rx="7" fill="#131722" stroke="#d8434f" stroke-width="1.3"/>
<text stroke="#ec4f5c" stroke-width="0.45" x="35.3" y="87.3" font-size="18" fill="#ec4f5c" textLength="99.9" lengthAdjust="spacingAndGlyphs">2.28360244</text>
<text stroke="#ec4f5c" stroke-width="0.45" x="67.3" y="106.7" font-size="15.7" fill="#ec4f5c" textLength="34.6" lengthAdjust="spacingAndGlyphs">SELL</text>
<text stroke="#d1d4dc" stroke-width="0.45" x="164" y="94" font-size="16.2" fill="#d1d4dc" textLength="75.1" lengthAdjust="spacingAndGlyphs">0.00000000</text>
<rect x="252.4" y="65.2" width="132.4" height="49" rx="7" fill="#131722" stroke="#3560e0" stroke-width="1.3"/>
<text stroke="#2962ff" stroke-width="0.45" x="268.9" y="87.3" font-size="18" fill="#2962ff" textLength="100.1" lengthAdjust="spacingAndGlyphs">2.28360244</text>
<text stroke="#2962ff" stroke-width="0.45" x="303" y="106.7" font-size="15.7" fill="#2962ff" textLength="30.7" lengthAdjust="spacingAndGlyphs">BUY</text>
<path d="M444.5,0 H1464 V26 H452.5 Q444.5,26 444.5,18 Z" fill="#1e222d"/>
<rect x="452" y="26" width="1012" height="1.6" fill="#10131a" opacity="0.6"/>
<rect x="456" y="27.6" width="18" height="1.4" fill="#1d4640"/><rect x="474" y="27.6" width="22" height="1.4" fill="#4b2857"/>
<path d="M1334.6,25.5 V29 Q1334.6,35.2 1340.6,35.2 H1444.8 Q1450.8,35.2 1450.8,29 V25.5" fill="#0f121a" stroke="#434651" stroke-width="1"/>
<g fill="#5d606b"><circle cx="457.6" cy="5.2" r="1.3"/><circle cx="466" cy="5.2" r="1.3"/></g>
<g fill="none" stroke="#d1d4dc" stroke-width="1.6" stroke-linecap="round"><circle cx="494.8" cy="10.7" r="3.3"/><line x1="498.1" y1="10.7" x2="524.3" y2="10.7"/><circle cx="508.2" cy="1.7" r="0.9" fill="#d1d4dc"/><circle cx="514.1" cy="4.6" r="0.9" fill="#d1d4dc"/><circle cx="520.2" cy="7.4" r="0.9" fill="#d1d4dc"/><circle cx="549.9" cy="10.7" r="3.3"/><line x1="553.2" y1="10.7" x2="582.7" y2="10.7"/><line x1="549.4" y1="1.9" x2="582.7" y2="1.9"/><path d="M611.1,-1 V6.4 H615.1 V-1 M613.1,6.4 V9.3 M621.4,-1 V5.5 H625.4 V-1 M623.4,5.5 V8.2"/><circle cx="634.1" cy="1.8" r="1.9" fill="#d1d4dc"/><circle cx="667.3" cy="10.7" r="3.3"/><line x1="669.8" y1="8.2" x2="678.5" y2="-0.5"/><rect x="683.4" y="3.7" width="14" height="10.6" rx="3.2"/><line x1="738" y1="0" x2="738" y2="10.5"/><line x1="733.5" y1="10.5" x2="742.5" y2="10.5"/><circle cx="779.5" cy="1.5" r="3.3"/><circle cx="779.5" cy="10.5" r="3.3"/><line x1="783" y1="1.5" x2="803" y2="1.5"/><line x1="783" y1="10.5" x2="808" y2="10.5"/><circle cx="806.5" cy="1.5" r="3.3"/><circle cx="837.5" cy="10.5" r="3.3"/><line x1="840" y1="8" x2="849" y2="0"/><circle cx="890.4" cy="10.7" r="3.3"/><circle cx="904.3" cy="4.5" r="3.3"/><line x1="891.4" y1="7.5" x2="894.2" y2="-0.5"/><line x1="892.4" y1="7.9" x2="898.8" y2="-0.5"/><line x1="893.4" y1="9.3" x2="901.2" y2="5.8"/><line x1="907.4" y1="3.1" x2="915.6" y2="-0.5"/><circle cx="964.9" cy="-2" r="15.3"/><circle cx="964.9" cy="0.5" r="2.5" fill="#d1d4dc"/><circle cx="981" cy="0" r="2.2" fill="#d1d4dc"/><circle cx="1008.9" cy="6.2" r="3.3"/><line x1="1011.8" y1="4.6" x2="1020.9" y2="0"/><line x1="1008.6" y1="16.7" x2="1035.6" y2="3"/><circle cx="1067.7" cy="6" r="3.3"/><circle cx="1085.9" cy="4.6" r="3.3"/><line x1="1070" y1="3.5" x2="1074.4" y2="0"/><line x1="1076" y1="14.4" x2="1083.6" y2="7"/><line x1="1088" y1="2" x2="1090.8" y2="0"/><line x1="1136.9" y1="-0.5" x2="1136.9" y2="11.3"/><circle cx="1124.6" cy="13.4" r="3.3"/><line x1="1127.9" y1="13.4" x2="1152.5" y2="13.4"/><circle cx="1181.5" cy="9" r="3.3"/><line x1="1183.9" y1="6.6" x2="1191.8" y2="-0.5"/><circle cx="1235.7" cy="10.7" r="3.3"/><circle cx="1259.8" cy="7.4" r="3.3"/><line x1="1236.2" y1="7.4" x2="1237.7" y2="-0.5"/><line x1="1239" y1="10.2" x2="1256.5" y2="7.9"/><line x1="1257.5" y1="4.9" x2="1253.3" y2="-0.5"/><line x1="1260.5" y1="4.1" x2="1262.3" y2="-0.5"/><circle cx="1293.9" cy="10.7" r="3.3"/><circle cx="1321.3" cy="6.2" r="3.3"/><line x1="1295.5" y1="7.8" x2="1301.6" y2="-0.5"/><line x1="1318.9" y1="3.8" x2="1313.1" y2="-0.5"/><path d="M1351.3,0 V7.5 H1370.7 Q1379.3,7.5 1379.3,0"/><path d="M1407.3,0 V2 H1415.5 V10.8 H1426.4 V2 H1435 V0"/></g>
<text stroke="#c3c6ce" stroke-width="0.45" x="1433.5" y="68.6" font-size="17.4" fill="#c3c6ce" text-anchor="end">4.00000000</text>
<text stroke="#c3c6ce" stroke-width="0.45" x="1433.5" y="134.2" font-size="17.4" fill="#c3c6ce" text-anchor="end">3.50000000</text>
<text stroke="#c3c6ce" stroke-width="0.45" x="1433.5" y="199.8" font-size="17.4" fill="#c3c6ce" text-anchor="end">3.00000000</text>
<text stroke="#c3c6ce" stroke-width="0.45" x="1433.5" y="265.3" font-size="17.4" fill="#c3c6ce" text-anchor="end">2.50000000</text>
<text stroke="#c3c6ce" stroke-width="0.45" x="1433.5" y="330.9" font-size="17.4" fill="#c3c6ce" text-anchor="end">2.00000000</text>
<text stroke="#c3c6ce" stroke-width="0.45" x="1433.5" y="396.5" font-size="17.4" fill="#c3c6ce" text-anchor="end">1.50000000</text>
<path d="M1328.6,274.1 H1438.9 Q1441.9,274.1 1441.9,277.1 V318.9 Q1441.9,321.9 1438.9,321.9 H1328.6 Z" fill="#089981"/>
<text stroke="#ffffff" stroke-width="0.45" x="1342.5" y="294.3" font-size="17.8" fill="#ffffff" textLength="91.2" lengthAdjust="spacingAndGlyphs">2.28360244</text>
<text stroke="#c6f3e9" stroke-width="0.45" x="1343" y="314.6" font-size="17.8" fill="#c6f3e9" textLength="68.6" lengthAdjust="spacingAndGlyphs">16:09:00</text>
<rect x="1359.5" y="406.5" width="29" height="31" rx="5" fill="none" stroke="#363a45" stroke-width="1.2"/>
<rect x="1395.5" y="406.5" width="29" height="31" rx="5" fill="none" stroke="#363a45" stroke-width="1.2"/>
<text stroke="#d1d4dc" stroke-width="0.45" x="1374" y="430" font-size="18" fill="#d1d4dc" text-anchor="middle">A</text>
<text stroke="#d1d4dc" stroke-width="0.45" x="1410" y="430" font-size="18" fill="#d1d4dc" text-anchor="middle">L</text>
<circle cx="1211.5" cy="424.5" r="15.6" fill="none" stroke="#a43bc0" stroke-width="2.2"/>
<circle cx="1221.5" cy="424.5" r="15.4" fill="#12141b" stroke="#df4352" stroke-width="2.6"/><clipPath id="fc1221"><circle cx="1221.5" cy="424.5" r="12.2"/></clipPath><g clip-path="url(#fc1221)"><rect x="1208.5" y="411.5" width="26" height="26" fill="#f6f6f8"/><rect x="1208.5" y="411.5" width="26" height="6.2" fill="#e8464f"/><rect x="1208.5" y="422.1" width="26" height="4.8" fill="#e8464f"/><rect x="1208.5" y="431.3" width="26" height="4.8" fill="#e8464f"/><rect x="1208.5" y="411.5" width="15.3" height="15.4" fill="#3b74d9"/><circle cx="1212.5" cy="415.6" r="1.15" fill="#e8f4ff"/><circle cx="1212.5" cy="419.7" r="1.15" fill="#e8f4ff"/><circle cx="1212.5" cy="423.8" r="1.15" fill="#e8f4ff"/><circle cx="1216.6" cy="415.6" r="1.15" fill="#e8f4ff"/><circle cx="1216.6" cy="419.7" r="1.15" fill="#e8f4ff"/><circle cx="1216.6" cy="423.8" r="1.15" fill="#e8f4ff"/><circle cx="1220.7" cy="415.6" r="1.15" fill="#e8f4ff"/><circle cx="1220.7" cy="419.7" r="1.15" fill="#e8f4ff"/><circle cx="1220.7" cy="423.8" r="1.15" fill="#e8f4ff"/></g>
<circle cx="1264.5" cy="424.5" r="15.4" fill="#12141b" stroke="#df4352" stroke-width="2.6"/><clipPath id="fc1264"><circle cx="1264.5" cy="424.5" r="12.2"/></clipPath><g clip-path="url(#fc1264)"><rect x="1251.5" y="411.5" width="26" height="26" fill="#f6f6f8"/><rect x="1251.5" y="411.5" width="26" height="6.2" fill="#e8464f"/><rect x="1251.5" y="422.1" width="26" height="4.8" fill="#e8464f"/><rect x="1251.5" y="431.3" width="26" height="4.8" fill="#e8464f"/><rect x="1251.5" y="411.5" width="15.3" height="15.4" fill="#3b74d9"/><circle cx="1255.5" cy="415.6" r="1.15" fill="#e8f4ff"/><circle cx="1255.5" cy="419.7" r="1.15" fill="#e8f4ff"/><circle cx="1255.5" cy="423.8" r="1.15" fill="#e8f4ff"/><circle cx="1259.6" cy="415.6" r="1.15" fill="#e8f4ff"/><circle cx="1259.6" cy="419.7" r="1.15" fill="#e8f4ff"/><circle cx="1259.6" cy="423.8" r="1.15" fill="#e8f4ff"/><circle cx="1263.7" cy="415.6" r="1.15" fill="#e8f4ff"/><circle cx="1263.7" cy="419.7" r="1.15" fill="#e8f4ff"/><circle cx="1263.7" cy="423.8" r="1.15" fill="#e8f4ff"/></g>
<text stroke="#d1d4dc" stroke-width="0.45" x="19.2" y="476" font-size="17" fill="#d1d4dc" textLength="49" lengthAdjust="spacingAndGlyphs">MACD</text>
<text stroke="#868993" stroke-width="0.45" x="75.6" y="476" font-size="17" fill="#868993" textLength="94.8" lengthAdjust="spacingAndGlyphs">12 26 close</text>
<text stroke="#fde0e3" stroke-width="0.45" x="183.7" y="476" font-size="17.8" fill="#fde0e3" textLength="107.7" lengthAdjust="spacingAndGlyphs">−0.00297416</text>
<text stroke="#3a6cf4" stroke-width="0.45" x="302.5" y="476" font-size="17.5" fill="#3a6cf4" textLength="107.7" lengthAdjust="spacingAndGlyphs">−0.17303597</text>
<text stroke="#f57c1f" stroke-width="0.45" x="420.5" y="476" font-size="17.5" fill="#f57c1f" textLength="107" lengthAdjust="spacingAndGlyphs">−0.17006181</text>
<path d="M1328.8,518.8 H1448.9 Q1450.9,518.8 1450.9,520.8 V545.9 H1328.8 Z" fill="#ffcdd2"/>
<text stroke="#131722" stroke-width="0.45" x="1442" y="538.3" font-size="17.4" fill="#131722" text-anchor="end">−0.00297416</text>
<rect x="1328.8" y="545.9" width="122.1" height="2.1" fill="#2a1a14"/>
<path d="M1328.8,548 H1448.9 Q1450.9,548 1450.9,550 V575 H1328.8 Z" fill="#ff6d00"/>
<text stroke="#fff8e8" stroke-width="0.45" x="1441" y="567.7" font-size="17.4" fill="#fff8e8" text-anchor="end">−0.17006181</text>
<rect x="1328.8" y="575" width="122.1" height="4.2" fill="#2962ff"/>
<text stroke="#d1d4dc" stroke-width="0.45" x="19" y="610.8" font-size="18.5" fill="#d1d4dc" textLength="35.1" lengthAdjust="spacingAndGlyphs">ADR</text>
<text stroke="#3262e6" stroke-width="0.45" x="67.6" y="610.8" font-size="18" fill="#3262e6" textLength="35.7" lengthAdjust="spacingAndGlyphs">1.56</text>
<text stroke="#c3c6ce" stroke-width="0.45" x="1342" y="620.8" font-size="17.4" fill="#c3c6ce">4.00</text>
<text stroke="#c3c6ce" stroke-width="0.45" x="1342" y="665.4" font-size="17.4" fill="#c3c6ce">2.00</text>
<path d="M1328.8,657.6 H1382.8 Q1384.8,657.6 1384.8,659.6 V682.1 Q1384.8,684.1 1382.8,684.1 H1328.8 Z" fill="#2962ff"/>
<text stroke="#ffffff" stroke-width="0.45" x="1342" y="677" font-size="17.8" fill="#ffffff">1.56</text>
<text stroke="#c3c6ce" stroke-width="0.45" x="1342" y="711.6" font-size="17.4" fill="#c3c6ce">0.00</text>
<g fill="none" stroke="#d1d4dc" stroke-width="1.5"><polygon points="1382.2,736 1387.5,727 1398.3,727 1403.6,736 1398.3,745 1387.5,745"/><circle cx="1392.9" cy="736" r="3.2"/></g>
<text stroke="#c3c6ce" stroke-width="0.45" x="54.4" y="742.3" font-size="17.4" fill="#c3c6ce" text-anchor="middle">16</text>
<text stroke="#c3c6ce" stroke-width="0.45" x="214.5" y="742.3" font-size="17.4" fill="#c3c6ce" text-anchor="middle">Oct</text>
<text stroke="#c3c6ce" stroke-width="0.45" x="354.3" y="742.3" font-size="17.4" fill="#c3c6ce" text-anchor="middle">14</text>
<text stroke="#c3c6ce" stroke-width="0.45" x="546.8" y="742.3" font-size="17.4" fill="#c3c6ce" text-anchor="middle">Nov</text>
<text stroke="#c3c6ce" stroke-width="0.45" x="729.3" y="742.3" font-size="17.4" fill="#c3c6ce" text-anchor="middle">18</text>
<text stroke="#c3c6ce" stroke-width="0.45" x="868" y="742.3" font-size="17.4" fill="#c3c6ce" text-anchor="middle">Dec</text>
<text stroke="#c3c6ce" stroke-width="0.45" x="1028" y="742.3" font-size="17.4" fill="#c3c6ce" text-anchor="middle">16</text>
<text stroke="#c3c6ce" stroke-width="0.25" x="1200" y="742.3" font-size="17.4" fill="#c3c6ce" text-anchor="middle" font-weight="bold">2025</text>
</svg>
</body></html>
